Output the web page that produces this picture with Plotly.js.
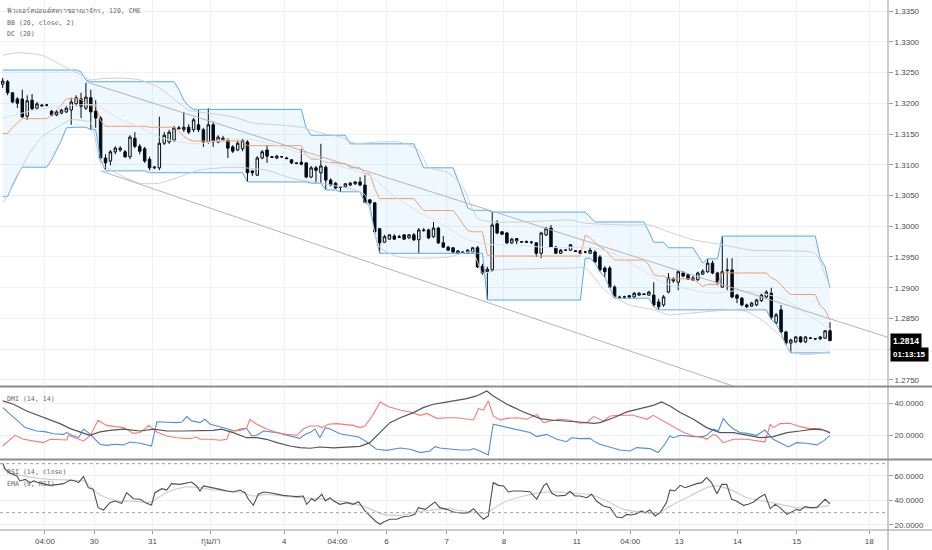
<!DOCTYPE html>
<html><head><meta charset="utf-8">
<script src="https://cdn.plot.ly/plotly-3.0.1.min.js"></script>
<style>html,body{margin:0;padding:0;background:#fff}#chart{width:932px;height:550px}</style>
</head><body><div id="chart"></div>
<script>
// ---- candle data (2h bars) ----
const open=[
1.3231,1.3235,1.3217,1.3207,1.3207,1.3179,1.3205,1.3192,1.3197,1.3197,
1.3187,1.3181,1.3184,1.3186,1.3189,1.3199,1.3207,1.3192,1.3209,1.3187,
1.3176,1.3111,1.3106,1.3121,1.3124,1.3121,1.3113,1.3143,1.3130,1.3126,
1.3109,1.3095,1.3095,1.3135,1.3137,1.3140,1.3160,1.3157,1.3161,1.3157,
1.3165,1.3157,1.3137,1.3165,1.3137,1.3143,1.3140,1.3129,1.3124,1.3126,
1.3137,1.3090,1.3083,1.3111,1.3124,1.3113,1.3111,1.3113,1.3111,1.3108,
1.3103,1.3104,1.3103,1.3080,1.3095,1.3087,1.3096,1.3075,1.3070,1.3064,
1.3064,1.3067,1.3069,1.3072,1.3067,1.3043,1.3038,1.2996,1.2974,1.2979,
1.2984,1.2983,1.2986,1.2981,1.2986,1.2978,1.2994,1.2994,1.2983,1.2997,
1.2973,1.2966,1.2965,1.2956,1.2958,1.2956,1.2958,1.2965,1.2935,1.2926,
1.2929,1.3004,1.2991,1.2989,1.2973,1.2976,1.2974,1.2975,1.2974,1.2973,
1.2956,1.2986,1.2997,1.2966,1.2956,1.2961,1.2961,1.2960,1.2960,1.2958,
1.2956,1.2958,1.2950,1.2932,1.2932,1.2901,1.2885,1.2885,1.2887,1.2885,
1.2888,1.2890,1.2888,1.2888,1.2877,1.2872,1.2893,1.2911,1.2909,1.2924,
1.2921,1.2913,1.2913,1.2922,1.2926,1.2940,1.2924,1.2901,1.2929,1.2929,
1.2888,1.2883,1.2872,1.2870,1.2872,1.2879,1.2885,1.2891,1.2843,1.2864,
1.2828,1.2810,1.2812,1.2820,1.2812,1.2818,1.2817,1.2817,1.2818,1.2830];
const high=[
1.3241,1.3238,1.3218,1.3210,1.3222,1.3213,1.3215,1.3202,1.3199,1.3199,
1.3189,1.3189,1.3191,1.3195,1.3209,1.3213,1.3217,1.3233,1.3222,1.3205,
1.3179,1.3117,1.3124,1.3130,1.3130,1.3124,1.3148,1.3153,1.3134,1.3129,
1.3113,1.3098,1.3178,1.3153,1.3157,1.3163,1.3163,1.3186,1.3166,1.3176,
1.3189,1.3160,1.3192,1.3170,1.3148,1.3147,1.3143,1.3132,1.3139,1.3142,
1.3140,1.3091,1.3114,1.3124,1.3132,1.3114,1.3116,1.3114,1.3113,1.3109,
1.3104,1.3126,1.3104,1.3098,1.3098,1.3134,1.3099,1.3078,1.3072,1.3065,
1.3070,1.3072,1.3073,1.3080,1.3083,1.3044,1.3039,1.2997,1.2986,1.2987,
1.2987,1.2986,1.2987,1.2987,1.2989,1.2997,1.2997,1.2996,1.3007,1.2999,
1.2984,1.2968,1.2966,1.2961,1.2960,1.2963,1.2966,1.2968,1.2939,1.2934,
1.3023,1.3010,1.2992,1.2991,1.2981,1.2981,1.2976,1.2977,1.2976,1.2974,
1.2991,1.2999,1.3002,1.2968,1.2963,1.2963,1.2971,1.2961,1.2961,1.2960,
1.2965,1.2961,1.2953,1.2935,1.2935,1.2904,1.2887,1.2887,1.2888,1.2893,
1.2893,1.2891,1.2895,1.2909,1.2882,1.2888,1.2924,1.2917,1.2929,1.2927,
1.2922,1.2919,1.2926,1.2930,1.2947,1.2944,1.2926,1.2984,1.2948,1.2948,
1.2890,1.2885,1.2874,1.2877,1.2882,1.2890,1.2896,1.2900,1.2859,1.2872,
1.2830,1.2817,1.2821,1.2821,1.2821,1.2820,1.2818,1.2821,1.2831,1.2844];
const low=[
1.3225,1.3213,1.3200,1.3192,1.3176,1.3173,1.3189,1.3189,1.3194,1.3195,
1.3179,1.3179,1.3182,1.3184,1.3165,1.3195,1.3176,1.3189,1.3157,1.3160,
1.3108,1.3093,1.3099,1.3117,1.3121,1.3111,1.3109,1.3127,1.3117,1.3103,
1.3091,1.3093,1.3091,1.3132,1.3134,1.3137,1.3157,1.3153,1.3150,1.3153,
1.3153,1.3129,1.3134,1.3129,1.3135,1.3139,1.3111,1.3119,1.3122,1.3122,
1.3072,1.3082,1.3082,1.3109,1.3103,1.3111,1.3109,1.3111,1.3109,1.3101,
1.3101,1.3099,1.3078,1.3078,1.3070,1.3070,1.3059,1.3065,1.3061,1.3056,
1.3062,1.3065,1.3067,1.3065,1.3038,1.3035,1.2989,1.2956,1.2973,1.2978,
1.2978,1.2981,1.2978,1.2979,1.2976,1.2956,1.2991,1.2979,1.2981,1.2971,
1.2965,1.2960,1.2956,1.2955,1.2956,1.2955,1.2956,1.2932,1.2921,1.2880,
1.2926,1.2987,1.2986,1.2971,1.2971,1.2971,1.2973,1.2973,1.2971,1.2950,
1.2948,1.2984,1.2965,1.2955,1.2955,1.2960,1.2960,1.2958,1.2955,1.2956,
1.2955,1.2940,1.2926,1.2917,1.2900,1.2883,1.2883,1.2882,1.2883,1.2883,
1.2887,1.2888,1.2887,1.2869,1.2864,1.2869,1.2891,1.2908,1.2896,1.2917,
1.2913,1.2911,1.2911,1.2921,1.2924,1.2922,1.2904,1.2900,1.2896,1.2883,
1.2875,1.2870,1.2867,1.2869,1.2870,1.2877,1.2883,1.2848,1.2841,1.2826,
1.2807,1.2794,1.2810,1.2810,1.2810,1.2817,1.2815,1.2815,1.2817,1.2813];
const close=[
1.3236,1.3217,1.3202,1.3200,1.3178,1.3204,1.3191,1.3199,1.3196,1.3197,
1.3181,1.3186,1.3189,1.3192,1.3202,1.3209,1.3195,1.3210,1.3186,1.3176,
1.3111,1.3103,1.3121,1.3127,1.3127,1.3113,1.3145,1.3130,1.3122,1.3106,
1.3095,1.3096,1.3135,1.3148,1.3153,1.3160,1.3159,1.3161,1.3153,1.3173,
1.3157,1.3137,1.3165,1.3137,1.3145,1.3140,1.3127,1.3122,1.3135,1.3139,
1.3087,1.3087,1.3111,1.3121,1.3114,1.3112,1.3114,1.3113,1.3110,1.3103,
1.3102,1.3101,1.3080,1.3095,1.3091,1.3098,1.3075,1.3067,1.3062,1.3063,
1.3069,1.3070,1.3072,1.3067,1.3039,1.3038,1.2991,1.2973,1.2983,1.2986,
1.2979,1.2982,1.2979,1.2986,1.2978,1.2994,1.2993,1.2981,1.2997,1.2973,
1.2966,1.2961,1.2958,1.2960,1.2957,1.2961,1.2965,1.2934,1.2924,1.2930,
1.3002,1.2989,1.2987,1.2973,1.2979,1.2980,1.2975,1.2974,1.2974,1.2956,
1.2989,1.2996,1.2966,1.2956,1.2961,1.2961,1.2970,1.2959,1.2956,1.2958,
1.2961,1.2942,1.2929,1.2926,1.2901,1.2885,1.2884,1.2885,1.2885,1.2891,
1.2891,1.2889,1.2893,1.2872,1.2869,1.2885,1.2916,1.2914,1.2926,1.2919,
1.2914,1.2916,1.2924,1.2927,1.2940,1.2924,1.2908,1.2926,1.2928,1.2885,
1.2883,1.2872,1.2869,1.2875,1.2880,1.2888,1.2893,1.2852,1.2856,1.2828,
1.2810,1.2815,1.2820,1.2812,1.2820,1.2818,1.2817,1.2820,1.2830,1.2814];

// ---- Donchian channel (20) read per bar ----
const dcUpper=[
1.3254,1.3254,1.3254,1.3254,1.3254,1.3254,1.3254,1.3254,1.3254,1.3254,
1.3254,1.3254,1.3254,1.3254,1.3254,1.3254,1.3251,1.3238,1.3235,1.3235,
1.3235,1.3235,1.3235,1.3235,1.3235,1.3235,1.3235,1.3235,1.3235,1.3235,
1.3235,1.3235,1.3235,1.3235,1.3235,1.3235,1.3222,1.3205,1.3195,1.3190,
1.3190,1.3190,1.3190,1.3190,1.3190,1.3190,1.3190,1.3190,1.3190,1.3190,
1.3190,1.3190,1.3190,1.3190,1.3190,1.3190,1.3190,1.3190,1.3190,1.3190,
1.3190,1.3190,1.3160,1.3148,1.3148,1.3148,1.3148,1.3148,1.3148,1.3148,
1.3148,1.3134,1.3134,1.3134,1.3134,1.3134,1.3134,1.3134,1.3134,1.3134,
1.3134,1.3134,1.3134,1.3134,1.3134,1.3114,1.3095,1.3095,1.3095,1.3095,
1.3095,1.3095,1.3095,1.3075,1.3051,1.3030,1.3026,1.3026,1.3026,1.3026,
1.3023,1.3023,1.3023,1.3023,1.3023,1.3023,1.3023,1.3023,1.3023,1.3023,
1.3023,1.3023,1.3023,1.3023,1.3023,1.3023,1.3023,1.3023,1.3023,1.3023,
1.3015,1.3007,1.3007,1.3007,1.3007,1.3007,1.3007,1.3007,1.3007,1.3007,
1.3007,1.3007,1.2991,1.2974,1.2974,1.2974,1.2965,1.2965,1.2965,1.2965,
1.2965,1.2965,1.2953,1.2940,1.2947,1.2947,1.2947,1.2984,1.2984,1.2984,
1.2984,1.2984,1.2984,1.2984,1.2984,1.2984,1.2984,1.2984,1.2984,1.2984,
1.2984,1.2984,1.2984,1.2984,1.2984,1.2984,1.2984,1.2948,1.2934,1.2900];
const dcLower=[
1.3048,1.3048,1.3067,1.3083,1.3096,1.3096,1.3096,1.3096,1.3096,1.3096,
1.3108,1.3124,1.3140,1.3160,1.3161,1.3161,1.3161,1.3161,1.3157,1.3157,
1.3108,1.3090,1.3090,1.3090,1.3090,1.3090,1.3090,1.3090,1.3090,1.3090,
1.3087,1.3087,1.3087,1.3087,1.3087,1.3087,1.3087,1.3087,1.3087,1.3087,
1.3087,1.3087,1.3087,1.3087,1.3087,1.3087,1.3087,1.3087,1.3087,1.3087,
1.3072,1.3072,1.3072,1.3072,1.3072,1.3072,1.3072,1.3072,1.3072,1.3072,
1.3072,1.3072,1.3072,1.3070,1.3070,1.3070,1.3059,1.3059,1.3059,1.3056,
1.3056,1.3056,1.3056,1.3056,1.3038,1.3035,1.2989,1.2956,1.2956,1.2956,
1.2956,1.2956,1.2956,1.2956,1.2956,1.2956,1.2956,1.2956,1.2956,1.2956,
1.2956,1.2956,1.2956,1.2956,1.2956,1.2956,1.2956,1.2956,1.2956,1.2880,
1.2880,1.2880,1.2880,1.2880,1.2880,1.2880,1.2880,1.2880,1.2880,1.2880,
1.2880,1.2880,1.2880,1.2880,1.2880,1.2880,1.2880,1.2880,1.2880,1.2948,
1.2948,1.2940,1.2926,1.2917,1.2900,1.2883,1.2883,1.2883,1.2883,1.2883,
1.2883,1.2883,1.2883,1.2869,1.2864,1.2864,1.2864,1.2864,1.2864,1.2864,
1.2864,1.2864,1.2864,1.2864,1.2864,1.2864,1.2864,1.2864,1.2864,1.2864,
1.2864,1.2864,1.2864,1.2864,1.2864,1.2864,1.2864,1.2848,1.2841,1.2826,
1.2807,1.2794,1.2794,1.2794,1.2794,1.2794,1.2794,1.2794,1.2794,1.2794];

// ---- Bollinger bands (20, close, 2) read as vertices (bar, price) ----
const bbUpperX=[0,3,8,12,16,18,20,24,28,32,36,38,40,47,51,56,61,65,69,72,77,81,85,87,91,94,97,100,106,116,119,128,132,136,141,147,153,161,166,168,169];
const bbUpperY=[1.3278,1.3282,1.3278,1.3262,1.3246,1.3238,1.3240,1.3241,1.3238,1.3225,1.3200,1.3189,1.3186,1.3178,1.3168,1.3165,1.3161,1.3152,1.3145,1.3135,1.3137,1.3137,1.3124,1.3096,1.3087,1.3064,1.3013,1.3007,1.3007,1.3010,1.3005,1.3002,1.3002,1.2991,1.2978,1.2970,1.2961,1.2960,1.2956,1.2921,1.2904];
const bbLowerX=[0,2,5,8,12,14,18,20,23,28,32,36,40,47,54,59,65,72,74,77,81,86,91,96,98,101,116,119,123,128,133,136,141,149,152,155,159,161,164,169];
const bbLowerY=[1.3038,1.3064,1.3113,1.3145,1.3165,1.3173,1.3168,1.3103,1.3087,1.3070,1.3070,1.3080,1.3091,1.3096,1.3091,1.3078,1.3070,1.3059,1.3051,1.2966,1.2950,1.2948,1.2950,1.2958,1.2924,1.2929,1.2932,1.2932,1.2896,1.2872,1.2864,1.2856,1.2859,1.2864,1.2861,1.2848,1.2820,1.2796,1.2791,1.2796];
const bbBasisX=[0,5,10,15,19,24,28,32,36,40,45,50,55,60,65,70,75,80,85,90,95,100,105,110,115,120,125,130,135,140,145,150,155,160,165,169];
const bbBasisY=[1.3176,1.3186,1.3194,1.3197,1.3197,1.3174,1.3161,1.3145,1.3137,1.3134,1.3140,1.3142,1.3134,1.3121,1.3108,1.3095,1.3082,1.3049,1.3023,1.3002,1.2978,1.2970,1.2970,1.2966,1.2965,1.2966,1.2955,1.2932,1.2908,1.2898,1.2891,1.2895,1.2891,1.2880,1.2854,1.2833];

// ---- trend lines (bar, price) ----
const trendUpperX=[17,181], trendUpperY=[1.3235,1.2819];
const trendLowerX=[20,181], trendLowerY=[1.3090,1.2654];

// ---- DMI (14,14) ----
const diPlusX=[0,1.5,4.6,6.9,8.6,10.4,12.4,13.1,14.1,15.5,16.5,17.5,18.5,19.9,21.2,22.9,24.7,26.0,28.1,30.4,31.5,33.5,35.5,36.6,37.6,38.6,40.3,41.3,42.4,44.4,46.4,47.5,48.5,49.8,50.9,51.9,53.3,56.0,58.0,60.7,61.8,62.8,63.8,64.8,65.9,66.9,68.9,71.0,72.7,74.4,76.4,78.4,79.8,81.2,83.2,85.3,87.3,88.3,89.3,91.4,93.4,95.5,96.2,97.5,99.2,100.2,103.0,105.0,107.7,109.1,111.1,113.2,115.2,116.2,117.9,120.0,120.7,122.0,124.1,126.1,128.2,129.5,132.2,133.9,135.0,136.3,137.0,138.4,141.1,143.1,143.8,145.2,146.2,147.2,148.2,149.3,150.6,152.0,154.0,155.7,157.4,160.5,162.2,164.2,166.3,167.7,169.0];
const diPlusY=[37.3,33.1,24.8,22.7,22.3,21.0,20.6,21.7,20.0,18.5,23.9,21.7,18.5,14.4,13.7,14.4,14.0,15.8,15.0,13.3,28.5,28.3,27.9,28.3,31.7,29.0,27.9,30.0,26.9,25.4,23.9,22.7,23.9,24.4,19.6,20.0,22.7,21.7,20.0,18.1,20.6,21.7,23.9,18.5,24.8,23.9,21.0,20.0,18.9,15.8,11.3,10.6,11.3,12.1,11.3,9.2,10.2,12.9,12.1,11.3,10.8,10.8,11.7,10.2,7.7,26.9,24.8,23.3,21.7,19.2,20.6,17.5,16.0,18.5,17.9,18.1,16.5,14.4,12.7,10.8,10.2,12.3,11.7,9.2,13.3,19.6,18.5,20.0,19.2,19.2,20.0,23.9,22.7,30.4,26.9,23.9,21.7,21.2,20.0,23.3,17.5,12.7,15.4,15.0,14.0,16.5,20.0];
const diMinusX=[0,2.5,4.2,8.3,9.7,13.1,13.4,16.5,17.8,19.5,21.2,23.3,24.7,26.7,28.1,29.8,31.5,33.5,35.5,38.3,39.6,40.3,42.4,44.4,45.8,46.4,48.5,49.8,50.5,51.9,53.9,56.0,58.0,60.1,61.4,62.8,64.5,65.2,66.5,68.2,71.6,73.0,74.0,75.7,77.1,78.8,81.2,83.2,85.3,86.6,88.7,91.4,92.7,96.2,97.2,98.2,99.2,100.2,101.6,103.0,105.0,107.1,109.1,110.5,111.8,113.9,115.9,117.9,119.3,120.7,121.7,122.7,124.1,126.1,128.8,131.6,132.9,135.0,137.0,139.1,141.1,143.1,143.8,145.2,145.9,147.2,149.3,152.0,155.7,156.8,157.4,158.8,160.8,162.9,164.9,167.0,169.0];
const diMinusY=[13.3,20.0,17.5,15.4,17.5,17.1,20.0,16.5,19.6,29.4,26.2,25.4,24.8,21.2,21.7,26.2,22.1,19.6,18.5,17.9,18.9,17.5,17.5,16.9,17.5,22.7,23.1,24.2,30.0,26.9,23.9,21.7,20.6,20.0,23.9,25.8,25.8,24.8,26.9,27.3,26.2,24.8,25.8,33.1,40.8,37.9,35.8,34.6,32.5,33.7,30.6,31.0,31.0,29.6,36.7,35.8,41.5,32.1,29.6,30.6,31.0,30.0,33.1,27.9,29.0,30.0,29.4,27.5,27.9,31.7,30.4,29.0,32.1,32.5,32.5,30.0,32.5,29.0,25.4,21.7,19.6,18.5,17.5,20.6,19.6,15.4,17.5,17.5,15.8,26.9,24.8,27.3,27.5,25.4,24.2,24.2,21.2];
const adxX=[0,2.2,4.9,7.6,9.7,11.7,13.8,15.8,17.8,19.9,21.9,24.7,28.1,30.8,33.5,36.9,40.3,43.0,44.7,47.1,49.8,51.9,53.9,56.0,58.7,60.7,62.8,64.8,67.6,70.3,73.0,75.0,77.1,79.1,81.2,83.9,85.9,88.0,90.0,92.1,94.8,96.8,98.9,100.2,103.0,106.4,109.8,112.5,115.2,117.9,120.7,122.0,124.8,127.5,130.2,132.9,134.6,136.3,138.4,141.1,143.8,146.5,149.3,152.0,154.7,157.4,160.2,162.9,165.6,167.7,169.0];
const adxY=[41.5,39.4,35.2,32.1,30.0,27.3,24.2,22.1,20.0,22.1,23.1,23.9,22.7,23.9,22.7,22.7,23.1,23.1,23.9,21.7,18.5,18.5,17.5,15.4,13.3,12.3,11.9,12.7,12.1,12.7,13.1,15.4,21.7,27.9,31.0,34.2,37.3,39.4,40.4,41.5,42.9,44.6,47.7,44.6,39.4,34.6,30.4,29.4,29.0,28.3,27.5,27.9,31.0,34.6,36.7,38.7,40.8,38.3,34.2,30.0,24.8,21.7,21.7,20.0,18.5,19.2,21.7,22.7,23.9,23.3,21.7];

// ---- RSI (14, close) and EMA (9, RSI) ----
const rsiX=[0,0.5,1.5,2.9,3.5,4.6,5.6,6.3,7.3,9.7,11.4,12.4,13.8,14.8,15.5,16.5,17.5,18.5,19.5,20.6,21.9,22.9,24.3,25.3,26.7,28.1,29.4,30.4,31.1,32.5,33.5,34.5,36.2,37.2,38.6,39.6,40.3,41.0,42.4,43.0,44.4,45.8,47.1,48.5,49.5,50.2,51.2,52.2,53.3,54.6,56.0,57.3,58.7,60.1,61.4,62.1,63.1,63.8,65.2,65.9,66.9,67.6,68.9,70.3,71.6,72.7,74.0,75.0,76.1,77.1,77.8,79.1,80.5,81.8,83.2,84.2,84.9,86.3,87.3,88.3,89.3,90.7,92.1,94.1,95.1,96.2,97.2,98.2,99.2,100.2,101.3,102.3,103.3,104.3,105.7,107.7,109.1,110.5,111.1,112.2,113.2,114.9,115.9,116.9,117.9,119.3,120.3,121.3,122.7,124.1,125.4,126.5,127.5,128.5,129.5,130.5,131.2,132.2,133.3,134.3,135.6,136.3,137.3,138.4,139.4,140.4,141.8,142.8,143.8,144.8,145.9,146.9,147.9,148.9,149.9,151.3,152.3,153.4,154.7,155.7,156.8,157.8,158.8,160.2,161.2,162.2,162.9,163.9,164.9,166.3,168.0,169.0];
const rsiY=[70.3,65.4,62.1,59.9,55.9,57.2,54.5,55.9,54.5,52.3,53.1,53.7,56.7,55.9,54.5,59.4,50.4,49.0,34.1,32.2,38.2,39.5,37.6,46.3,41.4,40.9,37.6,36.3,46.3,49.6,48.5,53.7,53.1,53.7,55.0,51.8,47.7,51.8,50.4,50.4,49.0,47.7,46.9,48.5,46.3,40.9,36.0,45.0,46.9,46.3,45.0,44.1,43.6,43.1,43.6,36.8,41.4,39.5,45.0,39.5,42.2,39.5,36.8,38.2,36.8,39.0,31.4,27.3,23.2,20.5,22.4,24.6,24.6,26.7,27.3,28.6,34.1,32.7,35.4,38.7,34.1,32.7,30.5,29.5,30.0,33.3,28.6,24.6,27.3,54.5,52.3,51.8,46.9,47.7,47.7,47.1,40.9,51.8,53.9,45.8,43.6,44.1,47.4,43.6,43.6,42.2,45.0,39.5,35.4,34.1,26.5,25.9,28.6,28.1,29.2,31.4,30.0,32.2,27.3,30.0,38.2,48.5,47.7,52.3,50.4,51.8,53.7,54.5,58.6,54.5,45.5,53.1,53.1,40.9,39.5,36.0,36.8,38.7,42.8,45.0,33.3,36.8,34.1,28.6,30.5,32.7,31.9,34.9,34.1,34.1,40.9,37.3];
const emaX=[0,2.9,6.3,9.7,13.1,16.5,17.5,19.2,21.2,24.0,26.7,29.4,30.8,32.8,34.9,37.6,40.3,43.0,45.8,48.5,51.2,53.9,57.3,60.7,64.1,67.6,71.0,74.4,77.8,81.2,84.6,88.0,91.4,92.7,96.2,98.9,100.2,103.0,106.4,109.8,113.2,116.6,120.0,123.4,126.8,130.2,133.6,137.0,140.4,143.8,145.9,148.6,152.0,155.4,158.8,162.2,165.6,169.0];
const emaY=[66.7,61.3,58.6,57.2,56.7,55.9,53.1,46.3,42.2,39.5,39.5,38.2,39.5,45.0,48.5,51.0,50.4,48.5,47.7,46.9,43.6,45.0,43.6,42.2,41.4,40.3,38.2,34.1,28.6,27.8,30.5,32.2,33.5,32.2,30.5,29.5,33.3,39.5,43.6,46.3,46.9,45.8,45.0,39.5,32.7,30.5,29.2,36.8,43.6,50.4,51.8,49.0,42.2,39.5,36.8,34.1,34.1,36.0];

// ---- axes ----
const xTickBars=[8.64,18.7,30.6,42.55,57.5,68.4,78.4,90.7,102.4,117.3,128.2,138.2,150.1,162.2,177.0];
const xTickLabels=['04:00','30','31','กุมภา','4','04:00','6','7','8','11','04:00','13','14','15','18'];
const priceTicks=[1.275,1.28,1.285,1.29,1.295,1.30,1.305,1.31,1.315,1.32,1.325,1.33,1.335];
const priceTickLabels=['1.2750','','1.2850','1.2900','1.2950','1.3000','1.3050','1.3100','1.3150','1.3200','1.3250','1.3300','1.3350'];

const bars = close.map((_, i) => i);
const dcBasis = dcUpper.map((u, i) => (u + dcLower[i]) / 2);

const DC_BLUE='#5aaaf0', DC_ORANGE='#f0a070', BB_GRAY='#d0d0d0';
const traces=[
 {x:bars,y:dcUpper,type:'scatter',mode:'lines',line:{color:DC_BLUE,width:1},yaxis:'y',hoverinfo:'skip'},
 {x:bars,y:dcLower,type:'scatter',mode:'lines',line:{color:DC_BLUE,width:1},fill:'tonexty',fillcolor:'rgba(33,150,243,0.07)',yaxis:'y',hoverinfo:'skip'},
 {x:bars,y:dcBasis,type:'scatter',mode:'lines',line:{color:DC_ORANGE,width:1},yaxis:'y'},
 {x:bbUpperX,y:bbUpperY,type:'scatter',mode:'lines',line:{color:BB_GRAY,width:1,shape:'spline',smoothing:0.6},yaxis:'y'},
 {x:bbLowerX,y:bbLowerY,type:'scatter',mode:'lines',line:{color:BB_GRAY,width:1,shape:'spline',smoothing:0.6},yaxis:'y'},
 {x:bbBasisX,y:bbBasisY,type:'scatter',mode:'lines',line:{color:'#e2e2e2',width:1,shape:'spline',smoothing:0.6},yaxis:'y'},
 {x:trendUpperX,y:trendUpperY,type:'scatter',mode:'lines',line:{color:'#b4b4b4',width:1},yaxis:'y'},
 {x:trendLowerX,y:trendLowerY,type:'scatter',mode:'lines',line:{color:'#b4b4b4',width:1},yaxis:'y'},
 {x:bars,open:open,high:high,low:low,close:close,type:'candlestick',xaxis:'x',yaxis:'y',
  increasing:{line:{color:'#000',width:1},fillcolor:'#ffffff'},
  decreasing:{line:{color:'#000',width:1},fillcolor:'#000000'},whiskerwidth:0},
 {x:diPlusX,y:diPlusY,type:'scatter',mode:'lines',line:{color:'#4f8ee0',width:1.1},yaxis:'y2'},
 {x:diMinusX,y:diMinusY,type:'scatter',mode:'lines',line:{color:'#f77a74',width:1.1},yaxis:'y2'},
 {x:adxX,y:adxY,type:'scatter',mode:'lines',line:{color:'#555555',width:1.2},yaxis:'y2'},
 {x:emaX,y:emaY,type:'scatter',mode:'lines',line:{color:'#cfcfcf',width:1.2,shape:'spline',smoothing:0.5},yaxis:'y3'},
 {x:rsiX,y:rsiY,type:'scatter',mode:'lines',line:{color:'#505050',width:1.1},yaxis:'y3'}
];

const AX_FONT={family:'Liberation Sans, Arial, sans-serif',size:8,color:'#4a4a4a'};
const GRID='#eef1f6';
const W=932, PW=888, PH=530;
const py = px => (PH - px) / PH;   // pixel row -> paper y
const lastClose = close[close.length-1];
const LEG_FONT={family:'DejaVu Sans Mono, Noto Sans, monospace',size:6.6,color:'#666'};
const legend = (txt, rowPx) => ({xref:'paper',yref:'paper',x:5/PW,y:py(rowPx),xanchor:'left',yanchor:'middle',text:txt,showarrow:false,font:LEG_FONT});

const layout={
 width:W,height:550,margin:{l:0,r:W-PW,t:0,b:20},
 paper_bgcolor:'#fff',plot_bgcolor:'#fff',showlegend:false,boxgap:0.28,
 xaxis:{domain:[0,1],range:[-0.5516,180.85],anchor:'y3',tickmode:'array',tickvals:xTickBars,ticktext:xTickLabels,
   tickfont:AX_FONT,showgrid:true,gridcolor:GRID,gridwidth:1,zeroline:false,showline:false,ticks:'outside',ticklen:3,tickcolor:'#999',
   rangeslider:{visible:false},fixedrange:true},
 yaxis:{domain:[py(386),1],side:'right',range:[1.27402,1.33679],tickmode:'array',tickvals:priceTicks,ticktext:priceTickLabels,anchor:'x',
   showgrid:true,gridcolor:GRID,zeroline:false,ticks:'outside',ticklen:4,tickcolor:'#999',tickfont:AX_FONT},
 yaxis2:{domain:[py(459),py(388)],side:'right',range:[5.19,49.56],tickmode:'array',tickvals:[20,40],tickformat:'.4f',anchor:'x',
   showgrid:true,gridcolor:GRID,zeroline:false,ticks:'outside',ticklen:4,tickcolor:'#999',tickfont:AX_FONT},
 yaxis3:{domain:[0,py(461)],side:'right',range:[15.85,72.18],tickmode:'array',tickvals:[20,40,60],tickformat:'.4f',anchor:'x',
   showgrid:true,gridcolor:GRID,zeroline:false,ticks:'outside',ticklen:4,tickcolor:'#999',tickfont:AX_FONT},
 shapes:[
  {type:'line',xref:'paper',yref:'y3',x0:0,x1:1,y0:70,y1:70,line:{color:'#a0a0a0',width:1,dash:'dot'}},
  {type:'line',xref:'paper',yref:'y3',x0:0,x1:1,y0:30,y1:30,line:{color:'#a0a0a0',width:1,dash:'dot'}},
  {type:'line',xref:'paper',yref:'paper',x0:0,x1:W/PW,y0:py(386.5),y1:py(386.5),line:{color:'#8c8c8c',width:2}},
  {type:'line',xref:'paper',yref:'paper',x0:0,x1:W/PW,y0:py(459.5),y1:py(459.5),line:{color:'#8c8c8c',width:2}},
  {type:'line',xref:'paper',yref:'paper',x0:0,x1:W/PW,y0:0,y1:0,line:{color:'#9a9a9a',width:1}},
  {type:'line',xref:'paper',yref:'paper',x0:1,x1:1,y0:-20/PH,y1:1,line:{color:'#9a9a9a',width:1}}
 ],
 annotations:[
  legend('ฟิวเจอร์สปอนด์สหราชอาณาจักร, 120, CME',11),
  legend('BB (20, close, 2)',22.5),
  legend('DC (20)',34),
  legend('DMI (14, 14)',399),
  legend('RSI (14, close)',472),
  legend('EMA (9, RSI)',483.5),
  {xref:'paper',yref:'y',x:1+2/PW,y:lastClose,xanchor:'left',yanchor:'middle',text:'<b>'+lastClose.toFixed(4)+'</b>',showarrow:false,
   bgcolor:'#000',borderpad:2,font:{family:'Liberation Sans, Arial, sans-serif',size:8.5,color:'#fff'}},
  {xref:'paper',yref:'y',x:1+2/PW,y:lastClose,yshift:-14,xanchor:'left',yanchor:'middle',text:'<b>01:13:15</b>',showarrow:false,
   bgcolor:'#000',borderpad:2,font:{family:'Liberation Sans, Arial, sans-serif',size:8,color:'#fff'}}
 ]
};
Plotly.newPlot('chart',traces,layout,{staticPlot:true,displayModeBar:false});
</script>
</body></html>
